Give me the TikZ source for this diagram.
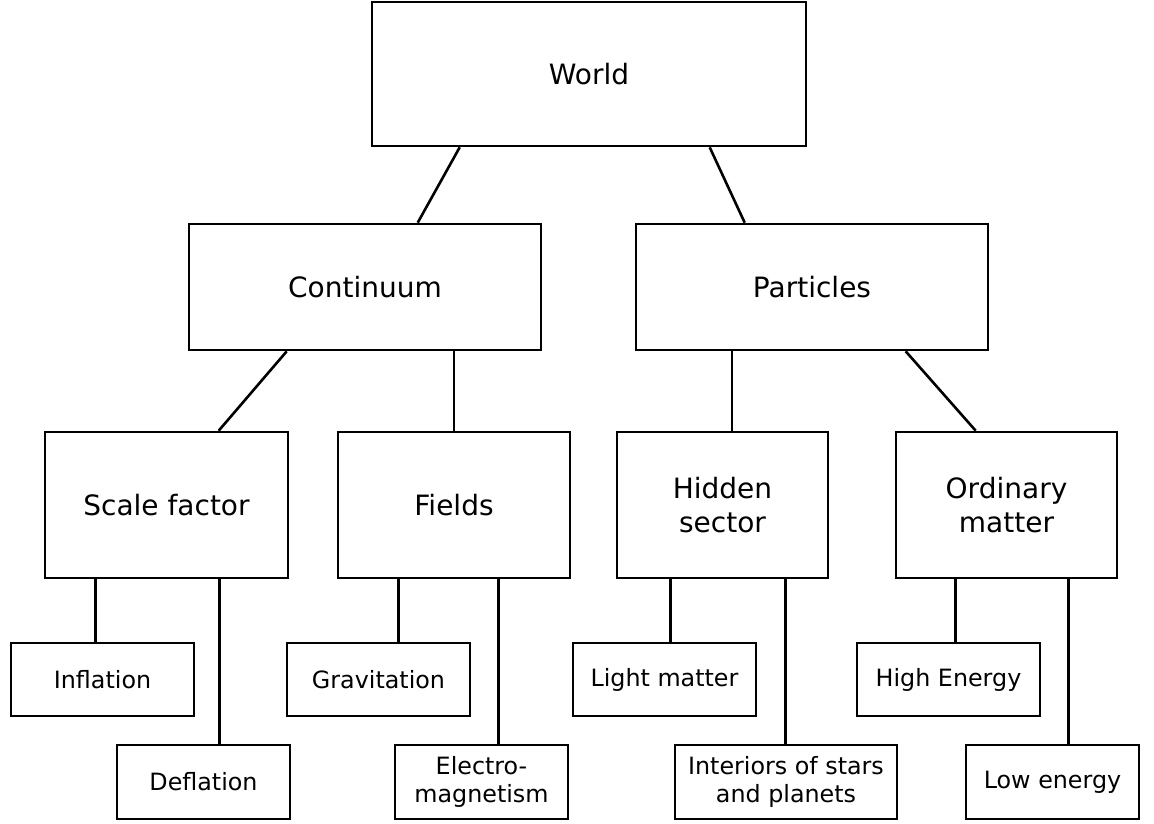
\documentclass[tikz,border=0pt]{standalone}
\usepackage{fontspec}
\setmainfont{DejaVu Sans}
\begin{document}
\begin{tikzpicture}[x=1pt,y=-1pt,
  box/.style={draw,line width=2.6pt,inner sep=0pt,align=center},
  bigbox/.style={box,font=\fontsize{28}{34}\selectfont},
  smallbox/.style={box,font=\fontsize{23.8}{28}\selectfont},
  link/.style={line width=2.6pt}]
\useasboundingbox (0,0) rectangle (1154,823);
\node[bigbox,minimum width=434pt,minimum height=144pt] (world) at (589,74) {World};
\node[bigbox,minimum width=352pt,minimum height=126pt] (cont) at (365,287) {Continuum};
\node[bigbox,minimum width=352pt,minimum height=126pt] (part) at (812,287) {Particles};
\node[bigbox,minimum width=243pt,minimum height=146pt] (scale) at (166.5,505) {Scale factor};
\node[bigbox,minimum width=232pt,minimum height=146pt] (fields) at (454,505) {Fields};
\node[bigbox,minimum width=211pt,minimum height=146pt] (hidden) at (722.5,505) {Hidden\\sector};
\node[bigbox,minimum width=221pt,minimum height=146pt] (ord) at (1006.5,505) {Ordinary\\matter};
\node[smallbox,minimum width=183pt,minimum height=73pt] (infl) at (102.5,679.5) {Inflation};
\node[smallbox,minimum width=173pt,minimum height=74pt] (defl) at (203.5,782) {Deflation};
\node[smallbox,minimum width=183pt,minimum height=73pt] (grav) at (378.5,679.5) {Gravitation};
\node[smallbox,minimum width=173pt,minimum height=74pt] (elec) at (481.5,782) {Electro-\\magnetism};
\node[smallbox,minimum width=183pt,minimum height=73pt] (light) at (664.5,679.5) {Light matter};
\node[smallbox,minimum width=222pt,minimum height=74pt] (inter) at (786,782) {Interiors of stars\\and planets};
\node[smallbox,minimum width=183pt,minimum height=73pt] (high) at (948.5,679.5) {High Energy};
\node[smallbox,minimum width=173pt,minimum height=74pt] (low) at (1052.5,782) {Low energy};
\draw[link] ([xshift=89pt]world.south west) -- ([xshift=230pt]cont.north west);
\draw[link] ([xshift=339pt]world.south west) -- ([xshift=110pt]part.north west);
\draw[link] ([xshift=99pt]cont.south west) -- ([xshift=175pt]scale.north west);
\draw[link] (fields.north) -- (fields.north |- cont.south);
\draw[link] ([xshift=9.5pt]hidden.north) -- ([xshift=9.5pt]hidden.north |- part.south);
\draw[link] ([xshift=271pt]part.south west) -- ([xshift=81pt]ord.north west);
\draw[link] ([xshift=86pt]infl.north west) -- ([xshift=86pt]infl.north west |- scale.south);
\draw[link] ([xshift=104pt]defl.north west) -- ([xshift=104pt]defl.north west |- scale.south);
\draw[link] ([xshift=113pt]grav.north west) -- ([xshift=113pt]grav.north west |- fields.south);
\draw[link] ([xshift=105pt]elec.north west) -- ([xshift=105pt]elec.north west |- fields.south);
\draw[link] ([xshift=99pt]light.north west) -- ([xshift=99pt]light.north west |- hidden.south);
\draw[link] ([xshift=112pt]inter.north west) -- ([xshift=112pt]inter.north west |- hidden.south);
\draw[link] ([xshift=100pt]high.north west) -- ([xshift=100pt]high.north west |- ord.south);
\draw[link] ([xshift=104pt]low.north west) -- ([xshift=104pt]low.north west |- ord.south);
\end{tikzpicture}
\end{document}
